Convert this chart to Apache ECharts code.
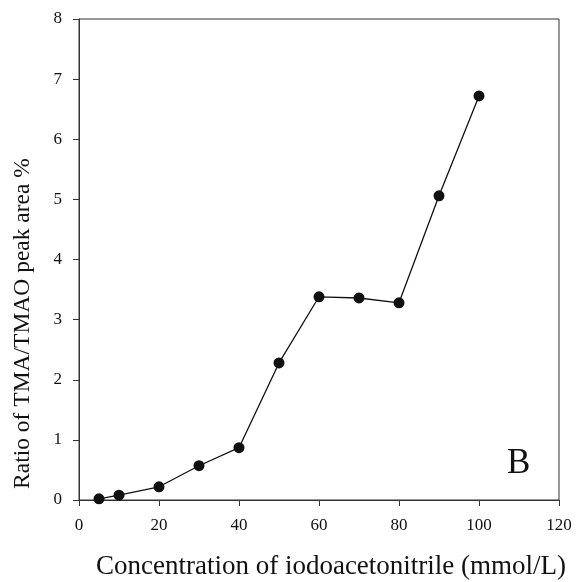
<!DOCTYPE html>
<html>
<head>
<meta charset="utf-8">
<script src="https://cdn.jsdelivr.net/npm/echarts@6/dist/echarts.min.js"></script>
<style>
html,body{margin:0;padding:0;background:#fff;}
#chart{width:576px;height:582px;}
</style>
</head>
<body>
<div id="chart"></div>
<script>
const concentrations = [5, 10, 20, 30, 40, 50, 60, 70, 80, 90, 100];
const ratios = [0.02, 0.08, 0.22, 0.57, 0.87, 2.28, 3.38, 3.36, 3.28, 5.06, 6.72];
const xTitle = 'Concentration of iodoacetonitrile (mmol/L)';
const yTitle = 'Ratio of TMA/TMAO peak area %';
const panelLabel = 'B';

const font = '"Liberation Serif", "Times New Roman", serif';
const chart = echarts.init(document.getElementById('chart'));
chart.setOption({
  backgroundColor: '#fff',
  animation: false,
  grid: {left: 79, right: 17, top: 19, bottom: 82, show: true, borderColor: '#333', borderWidth: 1,
         backgroundColor: 'transparent', outerBoundsMode: 'none', containLabel: false},
  xAxis: {
    type: 'value', min: 0, max: 120, interval: 20,
    name: xTitle, nameLocation: 'middle', nameGap: 53,
    nameTextStyle: {fontFamily: font, fontSize: 27, color: '#111', padding: [0, 0, 0, 24]},
    axisLine: {show: true, lineStyle: {color: '#333', width: 1}},
    axisTick: {show: true, inside: false, length: 6, lineStyle: {color: '#333'}},
    axisLabel: {fontFamily: font, fontSize: 17, color: '#111', margin: 17},
    splitLine: {show: false}
  },
  yAxis: {
    type: 'value', min: 0, max: 8, interval: 1,
    name: yTitle, nameLocation: 'middle', nameGap: 44, nameRotate: 90,
    nameTextStyle: {fontFamily: font, fontSize: 23.5, color: '#111', padding: [0, 128, 0, 0]},
    axisLine: {show: true, lineStyle: {color: '#333', width: 1}},
    axisTick: {show: true, inside: false, length: 6, lineStyle: {color: '#333'}},
    axisLabel: {fontFamily: font, fontSize: 17, color: '#111', margin: 17},
    splitLine: {show: false}
  },
  series: [{
    type: 'line',
    data: concentrations.map((c, i) => [c, ratios[i]]),
    symbol: 'circle', symbolSize: 11,
    itemStyle: {color: '#111'},
    lineStyle: {color: '#111', width: 1.3}
  }],
  graphic: [{
    type: 'text', left: 507, top: 446,
    style: {text: panelLabel, fontFamily: font, fontSize: 35, fill: '#111'}
  }]
});
</script>
</body>
</html>
